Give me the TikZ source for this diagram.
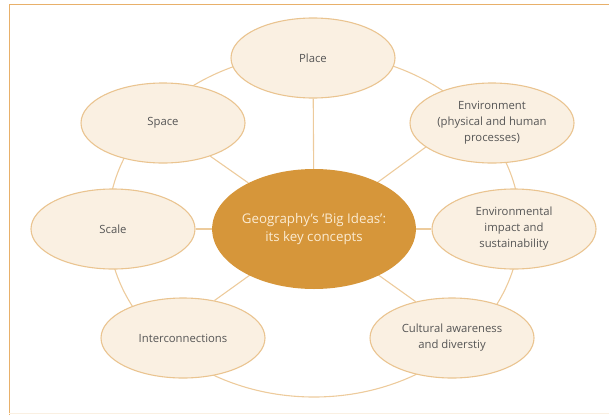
\documentclass[tikz,border=0pt]{standalone}
\usepackage{fontspec}
\setmainfont{Open Sans}
\usetikzlibrary{shapes.geometric,backgrounds}
\definecolor{ideacream}{HTML}{FAF0E2}
\definecolor{ideaedge}{HTML}{EAC490}
\definecolor{linkorange}{HTML}{EDCB9C}
\definecolor{hubgold}{HTML}{D6963A}
\definecolor{framegold}{HTML}{E8B06A}
\definecolor{labelgrey}{HTML}{555555}
\definecolor{hubtext}{HTML}{FBEBD2}

\begin{document}
\begin{tikzpicture}[x=1pt,y=-1pt,
    idea/.style={ellipse,draw=ideaedge,line width=1.1pt,fill=ideacream,
      minimum width=164pt,minimum height=80pt,inner sep=0pt,align=center,
      text=labelgrey,font=\fontsize{11.3}{16}\selectfont},
    bigidea/.style={ellipse,fill=hubgold,minimum width=198pt,minimum height=120pt,
      inner sep=0pt,align=center,text=hubtext,font=\fontsize{13.3}{18}\selectfont},
    link/.style={draw=linkorange,line width=1.1pt}]
      \useasboundingbox (0,0) rectangle (609,415);
      \draw[framegold,line width=1pt] (9,415) -- (9,4.5) -- (609,4.5);
      \draw[ideacream,line width=0.8pt] (9,413.5) -- (609,413.5);
      \node[bigidea] (hub) at (314,229) {Geography’s ‘Big Ideas’:\\its key concepts};
      \node[idea] (place) at (313,58) {Place};
      \node[idea] (space) at (163,123) {Space};
      \node[idea] (env) at (492,123) {Environment\\(physical and human\\processes)};
      \node[idea] (scale) at (113,229) {Scale};
      \node[idea] (impact) at (514,229) {Environmental\\impact and\\sustainability};
      \node[idea] (inter) at (183,338) {Interconnections};
      \node[idea] (culture) at (452,338) {Cultural awareness\\and diverstiy};
      \begin{scope}[on background layer]
        \draw[link] (hub.center) ++(0,-4) ellipse [x radius=206,y radius=172];
        \draw[link] (hub) -- (place);
        \draw[link] (hub) -- (space);
        \draw[link] (hub.center) -- (env.200);
        \draw[link] (hub) -- (scale);
        \draw[link] (hub) -- (impact);
        \draw[link] (hub.center) -- (inter.50);
        \draw[link] (hub.center) -- (culture.135);
      \end{scope}
    \end{tikzpicture}
\end{document}
